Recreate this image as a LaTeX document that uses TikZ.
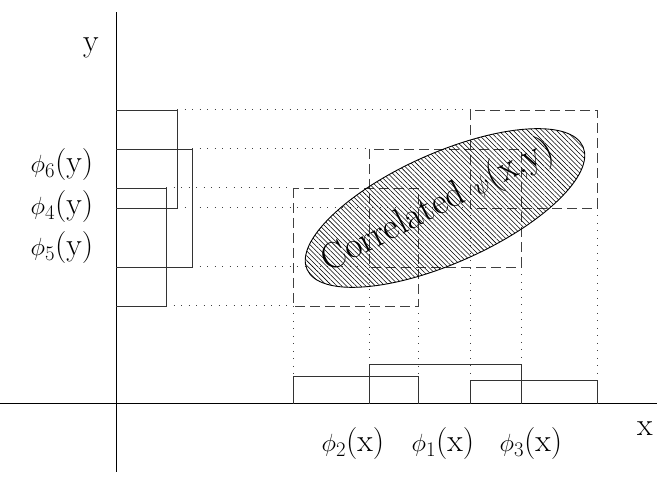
\documentclass[tikz,border=0pt]{standalone}
\usepackage{amsmath,amssymb}
\usetikzlibrary{patterns.meta,shapes.geometric}

\begin{document}
\begin{tikzpicture}[x=1pt, y=-1pt,
    axisline/.style={line width=1pt},
    stepline/.style={line width=0.9pt, black!80},
    dashbox/.style={line width=0.9pt, black!75, dash pattern=on 10pt off 5pt},
    dotline/.style={line width=1pt, black!75, dash pattern=on 1pt off 6.5pt},
    lab/.style={font=\fontsize{32}{36}\selectfont, inner sep=0pt, anchor=base},
    axlab/.style={font=\fontsize{32}{36}\selectfont, inner sep=0pt, anchor=base},
    corr/.style={ellipse, draw, line width=0.9pt, rotate=24, inner sep=0pt,
        minimum width=302pt, minimum height=110pt,
        pattern={Lines[angle=-45, distance=3.4pt, line width=0.55pt]}},
    corrlab/.style={rotate=27, inner sep=0pt, font=\fontsize{37}{40}\selectfont}]
    \useasboundingbox (0,0) rectangle (657,478);

    % Axes
    \coordinate (O) at (116,404);
    \coordinate (Ytop) at (116,12);
    \coordinate (Ybot) at (116,472);
    \coordinate (Xl) at (0,404);
    \coordinate (Xr) at (657,404);
    \draw[axisline] (Ybot) -- (Ytop);
    \draw[axisline] (Xl) -- (Xr);
    \node[axlab] (ylab) at (91,52) {y};
    \node[axlab] (xlab) at (645,436) {x};

    % Projections onto y
    \draw[dotline] (177,110) -- (470,110);
    \draw[dotline] (192,149) -- (369,149);
    \draw[dotline] (166,188) -- (293,188);
    \draw[dotline] (177,208) -- (470,208);
    \draw[dotline] (192,267) -- (369,267);
    \draw[dotline] (166,306) -- (293,306);

    % Projections onto x
    \draw[dotline] (293,306) -- (293,376);
    \draw[dotline] (418,306) -- (418,376);
    \draw[dotline] (369,267) -- (369,364);
    \draw[dotline] (521,267) -- (521,364);
    \draw[dotline] (470,208) -- (470,380);
    \draw[dotline] (597,208) -- (597,380);

    % Product cells
    \draw[dashbox] (293,188) rectangle (418,306);
    \draw[dashbox] (369,149) rectangle (521,267);
    \draw[dashbox] (470,110) rectangle (597,208);

    \node[corr] (psi) at (445,208) {};
    \node[corrlab] (psilab) at (438,206) {Correlated $\psi$(x,y)};

    % Step functions in y
    \draw[stepline] (116,110) -| (177,208) -- (116,208);
    \draw[stepline] (116,149) -| (192,267) -- (116,267);
    \draw[stepline] (116,188) -| (166,306) -- (116,306);
    \node[lab] (phi6) at (62,173) {$\phi_6$(y)};
    \node[lab] (phi4) at (62,215) {$\phi_4$(y)};
    \node[lab] (phi5) at (62,256) {$\phi_5$(y)};

    % Step functions in x
    \draw[stepline] (293,404) |- (418,376) -- (418,404);
    \draw[stepline] (369,404) |- (521,364) -- (521,404);
    \draw[stepline] (470,404) |- (597,380) -- (597,404);
    \node[lab] (phi2) at (353,452) {$\phi_2$(x)};
    \node[lab] (phi1) at (443,452) {$\phi_1$(x)};
    \node[lab] (phi3) at (531,452) {$\phi_3$(x)};
\end{tikzpicture}
\end{document}
